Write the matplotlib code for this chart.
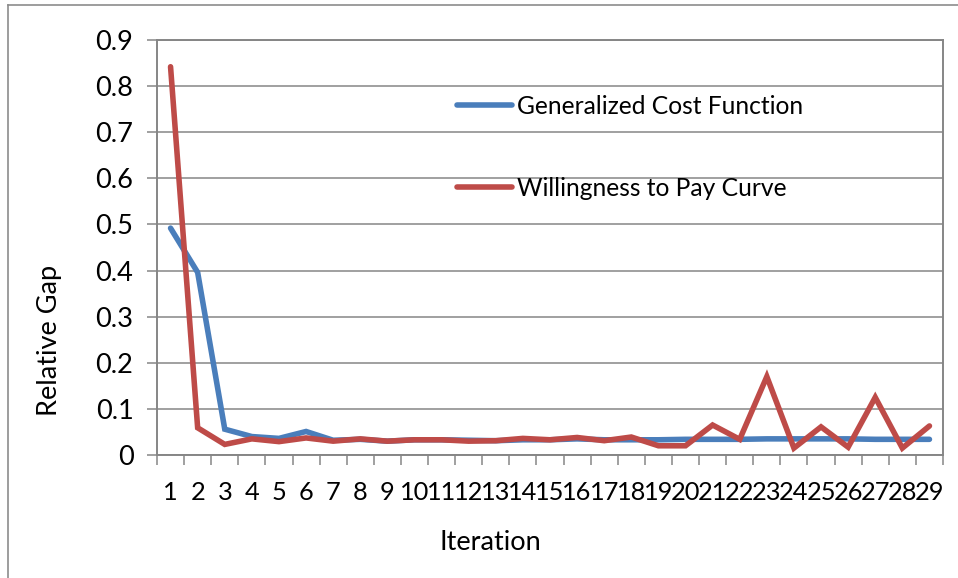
import matplotlib
matplotlib.use('Agg')
from matplotlib import pyplot as plt
from matplotlib.lines import Line2D

iterations = list(range(1, 30))
gen_cost = [0.492, 0.396, 0.056, 0.040, 0.036, 0.051, 0.032, 0.034, 0.030, 0.033,
            0.033, 0.032, 0.031, 0.033, 0.033, 0.035, 0.033, 0.033, 0.033, 0.034,
            0.034, 0.034, 0.035, 0.035, 0.035, 0.035, 0.034, 0.034, 0.034]
wtp_curve = [0.842, 0.059, 0.023, 0.035, 0.029, 0.037, 0.030, 0.035, 0.030, 0.033,
             0.033, 0.030, 0.031, 0.036, 0.033, 0.038, 0.031, 0.039, 0.020, 0.020,
             0.065, 0.034, 0.170, 0.015, 0.061, 0.017, 0.125, 0.015, 0.063]
y_ticks = [0, 0.1, 0.2, 0.3, 0.4, 0.5, 0.6, 0.7, 0.8, 0.9]
y_labels = ['0', '0.1', '0.2', '0.3', '0.4', '0.5', '0.6', '0.7', '0.8', '0.9']

plt.rcParams['font.family'] = ['Lato', 'DejaVu Sans']
fs = 19.5
fs_x = 18.3
fs_leg = 17.7
grey = '#868686'

W, H = 958, 578
fig = plt.figure(figsize=(W / 100, H / 100), dpi=100)
ax = fig.add_axes([157 / W, 1 - 455 / H, (943 - 157) / W, (455 - 40) / H])

ax.plot(iterations, gen_cost, color='#4A7EBB', lw=4.0, label='Generalized Cost Function',
        solid_capstyle='round', solid_joinstyle='miter')
ax.plot(iterations, wtp_curve, color='#BE4B48', lw=4.0, label='Willingness to Pay Curve',
        solid_capstyle='round', solid_joinstyle='miter')

ax.set_xlim(0.5, 29.5)
ax.set_ylim(0, 0.9)
ax.set_yticks(y_ticks)
ax.set_yticklabels(y_labels, fontsize=fs)
ax.set_xticks(iterations)
ax.set_xticklabels([str(i) for i in iterations], fontsize=fs_x)
ax.set_xticks([i + 0.5 for i in range(0, 30)], minor=True)
ax.tick_params(axis='x', which='major', length=0, pad=19)
ax.tick_params(axis='x', which='minor', length=7, width=1.1, color=grey)
ax.tick_params(axis='y', length=7, width=1.1, color=grey, pad=10)
ax.grid(axis='y', color=grey, lw=1.1)
ax.set_axisbelow(True)
for sp in ax.spines.values():
    sp.set_color(grey)
    sp.set_linewidth(1.4)

leg = ax.legend(loc='upper left', bbox_to_anchor=(457 / W, 1 - 95 / H),
                bbox_transform=fig.transFigure, frameon=False, fontsize=fs_leg,
                handlelength=2.25, handletextpad=0.2, labelspacing=2.4,
                borderpad=0, borderaxespad=0)

fig.text(50 / W, 1 - 340 / H, 'Relative Gap', rotation=90, fontsize=fs,
         ha='center', va='center')
fig.text(490 / W, 1 - 543 / H, 'Iteration', fontsize=fs, ha='center', va='center')

# outer chart border
fig.add_artist(Line2D([8 / W, 1.0], [1 - 5 / H, 1 - 5 / H], color='#8c8c8c', lw=1.2))
fig.add_artist(Line2D([8 / W, 8 / W], [0, 1 - 5 / H], color='#8c8c8c', lw=1.2))

fig.savefig('out.png', dpi=100)
